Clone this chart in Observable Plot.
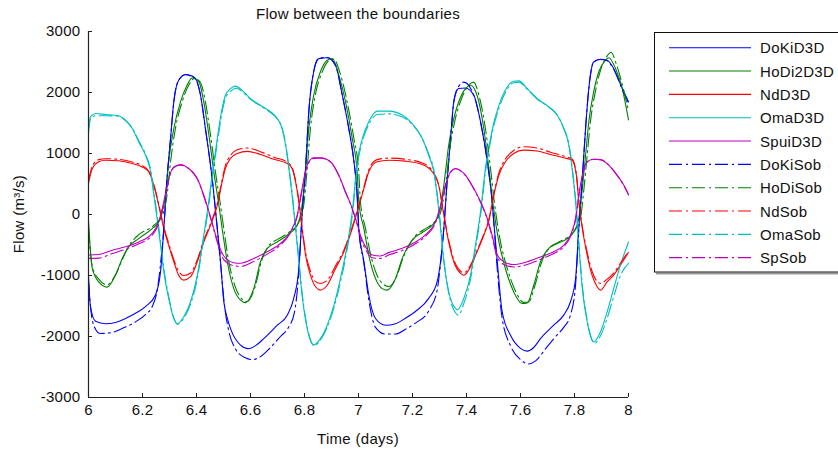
<!DOCTYPE html>
<html><head><meta charset="utf-8">
<script src="https://cdn.jsdelivr.net/npm/d3@7"></script>
<script src="https://cdn.jsdelivr.net/npm/@observablehq/plot@0.6"></script>
<style>
body{margin:0;background:#fff}
svg{font-family:"Liberation Sans",Arial,sans-serif;letter-spacing:0.3px}
</style>
</head><body><div id="chart"></div>
<script>
const DoKiD3D = [[6.000,-1000],[6.007,-1500],[6.026,-1750],[6.063,-1790],[6.100,-1770],[6.137,-1705],[6.174,-1620],[6.211,-1510],[6.248,-1320],[6.267,-930],[6.279,-230],[6.291,590],[6.304,1250],[6.316,1850],[6.334,2200],[6.359,2295],[6.378,2280],[6.396,2230],[6.415,1955],[6.433,1410],[6.458,590],[6.477,-230],[6.489,-770],[6.501,-1425],[6.514,-1700],[6.526,-1870],[6.563,-2140],[6.593,-2200],[6.619,-2150],[6.649,-2035],[6.699,-1815],[6.736,-1650],[6.760,-1375],[6.779,-885],[6.791,-10],[6.804,755],[6.816,1690],[6.834,2340],[6.853,2555],[6.884,2570],[6.915,2450],[6.940,1955],[6.964,1410],[6.983,870],[6.995,320],[7.001,-230],[7.020,-770],[7.038,-1320],[7.063,-1705],[7.100,-1815],[7.137,-1790],[7.174,-1700],[7.211,-1590],[7.260,-1375],[7.291,-1105],[7.304,-770],[7.316,-230],[7.329,590],[7.341,1245],[7.353,1850],[7.371,2065],[7.396,2075],[7.427,1955],[7.452,1520],[7.477,870],[7.495,210],[7.501,-120],[7.514,-770],[7.532,-1590],[7.563,-1980],[7.600,-2195],[7.625,-2240],[7.649,-2180],[7.674,-2035],[7.723,-1815],[7.760,-1650],[7.785,-1430],[7.804,-1050],[7.816,-230],[7.829,590],[7.841,1410],[7.853,2065],[7.871,2500],[7.896,2545],[7.921,2530],[7.945,2395],[7.977,2065],[8.000,1850]];
const HoDi2D3D = [[6.000,-100],[6.014,-885],[6.038,-1105],[6.069,-1190],[6.100,-995],[6.125,-720],[6.149,-530],[6.186,-395],[6.236,-230],[6.260,-120],[6.274,50],[6.285,320],[6.297,865],[6.316,1410],[6.341,1850],[6.365,2120],[6.384,2240],[6.409,2175],[6.427,1845],[6.446,1300],[6.464,700],[6.483,150],[6.495,-230],[6.514,-775],[6.538,-1215],[6.563,-1405],[6.581,-1445],[6.612,-1215],[6.637,-775],[6.662,-555],[6.699,-450],[6.736,-340],[6.773,-175],[6.791,150],[6.804,755],[6.816,1410],[6.834,1955],[6.859,2340],[6.884,2530],[6.903,2555],[6.927,2285],[6.952,1845],[6.977,1245],[6.995,700],[7.001,210],[7.020,-230],[7.038,-665],[7.063,-1050],[7.088,-1215],[7.106,-1240],[7.137,-1050],[7.162,-720],[7.186,-505],[7.211,-365],[7.236,-295],[7.273,-175],[7.297,-10],[7.316,480],[7.334,1135],[7.353,1575],[7.371,1845],[7.396,2065],[7.415,2120],[7.439,1955],[7.464,1410],[7.483,755],[7.497,210],[7.520,-450],[7.544,-885],[7.575,-1270],[7.606,-1460],[7.625,-1450],[7.649,-1160],[7.674,-775],[7.699,-585],[7.736,-475],[7.773,-395],[7.797,-285],[7.816,-65],[7.829,425],[7.841,970],[7.853,1520],[7.871,2010],[7.890,2340],[7.915,2530],[7.927,2570],[7.952,2395],[7.977,2065],[8.000,1550]];
const NdD3D = [[6.000,510],[6.014,755],[6.038,865],[6.063,890],[6.112,880],[6.162,835],[6.199,780],[6.223,700],[6.242,480],[6.260,150],[6.279,-230],[6.297,-505],[6.316,-775],[6.334,-995],[6.353,-1075],[6.378,-1020],[6.403,-775],[6.427,-450],[6.452,-175],[6.477,150],[6.495,535],[6.507,755],[6.526,920],[6.551,1000],[6.588,1035],[6.637,985],[6.686,905],[6.736,835],[6.754,755],[6.767,535],[6.779,210],[6.791,-230],[6.804,-665],[6.822,-995],[6.841,-1185],[6.859,-1240],[6.884,-1160],[6.915,-885],[6.946,-610],[6.977,-230],[6.995,45],[7.020,425],[7.038,700],[7.069,865],[7.112,890],[7.174,875],[7.236,820],[7.273,700],[7.297,480],[7.316,-10],[7.334,-450],[7.353,-775],[7.378,-965],[7.390,-995],[7.415,-860],[7.439,-610],[7.464,-340],[7.483,-95],[7.501,315],[7.520,645],[7.544,865],[7.575,1000],[7.612,1055],[7.662,1040],[7.711,985],[7.760,930],[7.791,890],[7.807,645],[7.816,210],[7.829,-230],[7.847,-665],[7.865,-995],[7.884,-1185],[7.896,-1240],[7.921,-1105],[7.945,-995],[7.970,-830],[8.000,-620]];
const OmaD3D = [[6.000,1400],[6.007,1600],[6.026,1655],[6.063,1640],[6.112,1620],[6.137,1545],[6.162,1410],[6.186,1190],[6.211,970],[6.230,700],[6.242,315],[6.254,-65],[6.267,-505],[6.279,-940],[6.297,-1375],[6.316,-1705],[6.327,-1790],[6.353,-1675],[6.378,-1430],[6.403,-995],[6.421,-505],[6.440,45],[6.458,645],[6.477,1245],[6.495,1740],[6.507,1955],[6.526,2065],[6.544,2105],[6.575,2010],[6.600,1900],[6.637,1790],[6.674,1685],[6.699,1575],[6.717,1410],[6.730,1135],[6.742,755],[6.754,315],[6.767,-230],[6.779,-775],[6.791,-1320],[6.810,-1870],[6.834,-2140],[6.859,-2035],[6.884,-1815],[6.909,-1485],[6.933,-1050],[6.958,-505],[6.977,45],[6.995,850],[7.014,1245],[7.038,1520],[7.069,1695],[7.112,1695],[7.162,1630],[7.199,1490],[7.236,1245],[7.260,970],[7.279,700],[7.291,315],[7.304,-230],[7.316,-775],[7.334,-1270],[7.359,-1540],[7.367,-1560],[7.390,-1375],[7.415,-995],[7.433,-505],[7.452,45],[7.470,755],[7.489,1250],[7.501,1500],[7.520,1790],[7.544,2040],[7.575,2185],[7.594,2190],[7.625,2065],[7.662,1900],[7.705,1765],[7.736,1630],[7.760,1410],[7.779,1135],[7.791,755],[7.804,210],[7.816,-505],[7.829,-1215],[7.847,-1760],[7.871,-2090],[7.896,-1925],[7.921,-1595],[7.945,-1215],[7.970,-830],[8.000,-450]];
const SpuiD3D = [[6.000,-665],[6.038,-655],[6.088,-585],[6.137,-530],[6.186,-450],[6.236,-310],[6.260,-120],[6.279,210],[6.297,590],[6.316,780],[6.341,820],[6.371,755],[6.403,590],[6.427,315],[6.446,45],[6.464,-230],[6.483,-505],[6.501,-680],[6.538,-790],[6.563,-800],[6.612,-720],[6.662,-610],[6.711,-475],[6.748,-285],[6.773,-10],[6.791,425],[6.810,810],[6.834,930],[6.859,930],[6.896,865],[6.927,645],[6.952,370],[6.977,100],[6.995,-150],[7.007,-340],[7.026,-530],[7.051,-665],[7.081,-680],[7.112,-625],[7.162,-555],[7.211,-450],[7.254,-310],[7.285,-120],[7.304,150],[7.322,480],[7.341,700],[7.359,755],[7.396,645],[7.427,425],[7.452,210],[7.477,-65],[7.495,-340],[7.514,-665],[7.538,-775],[7.575,-820],[7.625,-775],[7.674,-695],[7.723,-610],[7.760,-505],[7.785,-340],[7.804,-65],[7.816,315],[7.829,645],[7.847,865],[7.871,905],[7.896,900],[7.927,810],[7.958,645],[7.983,480],[8.000,330]];
const DoKiSob = [[6.000,-1100],[6.011,-1650],[6.026,-1880],[6.044,-1950],[6.081,-1940],[6.119,-1880],[6.174,-1760],[6.211,-1640],[6.237,-1500],[6.256,-1200],[6.267,-800],[6.279,-230],[6.291,590],[6.304,1250],[6.316,1850],[6.334,2200],[6.359,2290],[6.378,2270],[6.396,2220],[6.415,1955],[6.433,1410],[6.458,590],[6.477,-230],[6.489,-800],[6.504,-1500],[6.519,-1900],[6.544,-2200],[6.581,-2350],[6.607,-2380],[6.637,-2330],[6.674,-2180],[6.711,-2000],[6.741,-1850],[6.763,-1600],[6.778,-1000],[6.791,-10],[6.804,755],[6.816,1690],[6.834,2340],[6.853,2560],[6.884,2575],[6.915,2440],[6.940,1955],[6.964,1410],[6.983,870],[6.995,320],[7.001,-230],[7.020,-800],[7.038,-1400],[7.063,-1850],[7.100,-1960],[7.137,-1960],[7.174,-1880],[7.211,-1780],[7.260,-1580],[7.291,-1250],[7.304,-800],[7.316,-230],[7.329,590],[7.341,1245],[7.353,1850],[7.371,2100],[7.390,2170],[7.427,1955],[7.452,1520],[7.477,870],[7.495,210],[7.501,-120],[7.514,-900],[7.532,-1700],[7.563,-2150],[7.600,-2380],[7.630,-2450],[7.656,-2400],[7.693,-2200],[7.730,-2000],[7.760,-1850],[7.785,-1650],[7.804,-1150],[7.816,-230],[7.829,590],[7.841,1410],[7.853,2065],[7.871,2500],[7.896,2540],[7.921,2520],[7.945,2380],[7.977,2050],[8.000,1830]];
const HoDiSob = [[6.000,-250],[6.014,-850],[6.038,-1060],[6.069,-1150],[6.100,-990],[6.125,-740],[6.149,-520],[6.186,-330],[6.236,-200],[6.260,-100],[6.279,50],[6.291,320],[6.304,865],[6.322,1410],[6.347,1850],[6.371,2120],[6.393,2230],[6.415,2160],[6.433,1845],[6.452,1300],[6.470,700],[6.489,150],[6.501,-230],[6.519,-760],[6.544,-1190],[6.569,-1390],[6.587,-1430],[6.616,-1200],[6.641,-760],[6.666,-520],[6.703,-400],[6.740,-300],[6.776,-150],[6.797,150],[6.810,755],[6.822,1410],[6.840,1955],[6.865,2330],[6.890,2520],[6.909,2545],[6.933,2300],[6.958,1845],[6.983,1245],[7.001,700],[7.007,210],[7.026,-230],[7.044,-640],[7.069,-1000],[7.094,-1150],[7.112,-1180],[7.141,-1020],[7.166,-700],[7.190,-480],[7.215,-330],[7.240,-255],[7.277,-140],[7.303,20],[7.322,480],[7.340,1135],[7.359,1575],[7.377,1845],[7.402,2080],[7.426,2170],[7.446,1955],[7.470,1410],[7.489,755],[7.503,210],[7.526,-450],[7.550,-870],[7.581,-1250],[7.612,-1440],[7.631,-1430],[7.655,-1140],[7.680,-760],[7.705,-560],[7.742,-450],[7.779,-360],[7.803,-250],[7.822,-65],[7.835,425],[7.847,970],[7.859,1520],[7.877,2010],[7.896,2360],[7.921,2600],[7.935,2660],[7.956,2450],[7.981,2060],[8.000,1700]];
const NdSob = [[6.000,560],[6.014,790],[6.038,900],[6.063,915],[6.112,905],[6.162,860],[6.199,800],[6.223,710],[6.242,490],[6.260,170],[6.279,-200],[6.297,-470],[6.316,-740],[6.334,-930],[6.353,-1000],[6.378,-960],[6.403,-740],[6.427,-420],[6.452,-150],[6.477,180],[6.495,570],[6.507,800],[6.526,970],[6.551,1060],[6.588,1090],[6.637,1030],[6.686,940],[6.736,860],[6.754,770],[6.767,550],[6.779,230],[6.791,-200],[6.804,-620],[6.822,-930],[6.841,-1100],[6.859,-1130],[6.884,-1080],[6.915,-840],[6.946,-580],[6.977,-200],[6.995,60],[7.020,450],[7.038,730],[7.069,900],[7.112,925],[7.174,905],[7.236,845],[7.273,720],[7.297,490],[7.316,10],[7.334,-420],[7.353,-740],[7.378,-930],[7.390,-955],[7.415,-830],[7.439,-590],[7.464,-320],[7.483,-80],[7.501,330],[7.520,680],[7.544,910],[7.575,1050],[7.612,1110],[7.662,1090],[7.711,1020],[7.760,960],[7.791,910],[7.807,660],[7.816,230],[7.829,-200],[7.847,-620],[7.865,-930],[7.884,-1100],[7.896,-1130],[7.921,-1060],[7.945,-960],[7.970,-800],[8.000,-600]];
const OmaSob = [[6.000,1350],[6.007,1560],[6.026,1620],[6.063,1620],[6.112,1610],[6.137,1540],[6.162,1420],[6.186,1210],[6.211,990],[6.230,740],[6.242,380],[6.254,0],[6.267,-440],[6.279,-880],[6.297,-1340],[6.316,-1690],[6.330,-1800],[6.353,-1700],[6.378,-1470],[6.403,-1050],[6.421,-560],[6.440,-20],[6.458,580],[6.477,1170],[6.495,1680],[6.507,1900],[6.526,2020],[6.548,2070],[6.575,1990],[6.600,1890],[6.637,1780],[6.674,1670],[6.699,1565],[6.717,1420],[6.730,1160],[6.742,790],[6.754,360],[6.767,-180],[6.779,-730],[6.791,-1280],[6.810,-1840],[6.837,-2150],[6.859,-2060],[6.884,-1850],[6.909,-1530],[6.933,-1110],[6.958,-570],[6.977,-20],[6.995,780],[7.014,1190],[7.038,1470],[7.069,1640],[7.112,1650],[7.162,1600],[7.199,1480],[7.236,1250],[7.260,990],[7.279,730],[7.291,360],[7.304,-180],[7.316,-730],[7.334,-1280],[7.359,-1610],[7.370,-1650],[7.390,-1460],[7.415,-1060],[7.433,-570],[7.452,-20],[7.470,690],[7.489,1200],[7.501,1450],[7.520,1740],[7.544,2000],[7.575,2160],[7.594,2170],[7.625,2050],[7.662,1890],[7.705,1760],[7.736,1630],[7.760,1420],[7.779,1160],[7.791,790],[7.804,260],[7.816,-450],[7.829,-1160],[7.847,-1730],[7.875,-2110],[7.896,-1990],[7.921,-1700],[7.945,-1350],[7.970,-1000],[8.000,-800]];
const SpSob = [[6.000,-720],[6.038,-715],[6.088,-640],[6.137,-570],[6.186,-480],[6.236,-340],[6.260,-150],[6.279,180],[6.297,570],[6.316,770],[6.341,810],[6.371,750],[6.403,580],[6.427,300],[6.446,30],[6.464,-250],[6.483,-540],[6.501,-740],[6.538,-840],[6.563,-850],[6.612,-770],[6.662,-650],[6.711,-500],[6.748,-300],[6.773,-30],[6.791,400],[6.810,790],[6.834,920],[6.859,925],[6.896,860],[6.927,640],[6.952,360],[6.977,90],[6.995,-170],[7.007,-370],[7.026,-570],[7.051,-710],[7.081,-720],[7.112,-665],[7.162,-590],[7.211,-480],[7.254,-330],[7.285,-140],[7.304,130],[7.322,460],[7.341,690],[7.359,750],[7.396,640],[7.427,420],[7.452,200],[7.477,-80],[7.495,-370],[7.514,-700],[7.538,-820],[7.575,-860],[7.625,-820],[7.674,-735],[7.723,-640],[7.760,-530],[7.785,-360],[7.804,-80],[7.816,300],[7.829,630],[7.847,860],[7.871,905],[7.896,900],[7.927,810],[7.958,640],[7.983,470],[8.000,320]];

const seriesNames = ["DoKiD3D","HoDi2D3D","NdD3D","OmaD3D","SpuiD3D","DoKiSob","HoDiSob","NdSob","OmaSob","SpSob"];
const seriesData = [DoKiD3D,HoDi2D3D,NdD3D,OmaD3D,SpuiD3D,DoKiSob,HoDiSob,NdSob,OmaSob,SpSob];
const seriesColors = ["#0000ff","#008000","#ff0000","#00bfbf","#bf00bf","#0000ff","#008000","#ff0000","#00bfbf","#bf00bf"];
const seriesDashed = [false,false,false,false,false,true,true,true,true,true];
const xTicks = [6,6.2,6.4,6.6,6.8,7,7.2,7.4,7.6,7.8,8];
const yTicks = [-3000,-2000,-1000,0,1000,2000,3000];
const titleText = "Flow between the boundaries";
const xLabel = "Time (days)";
const yLabel = "Flow (m³/s)";

const W = 838, H = 453, mL = 88, mR = 210, mT = 31, mB = 56;
const fw = W - mL - mR, fh = H - mT - mB;
const DASH = "13,4,2,4";

const lineMarks = seriesData.map((arr, i) => Plot.line(arr, {
  x: d => d[0], y: d => d[1], stroke: seriesColors[i], strokeWidth: 1.1,
  strokeDasharray: seriesDashed[i] ? DASH : null, curve: "monotone-x"
}));

const svg = Plot.plot({
  width: W, height: H, marginLeft: mL, marginRight: mR, marginTop: mT, marginBottom: mB,
  style: {fontSize: "15px", fontFamily: "'Liberation Sans', Arial, sans-serif", color: "#000", background: "#fff"},
  x: {domain: [6, 8]},
  y: {domain: [-3000, 3000]},
  marks: [
    ...lineMarks,
    Plot.ruleX([6], {stroke: "#222", strokeWidth: 1.2}),
    Plot.ruleY([-3000], {stroke: "#222", strokeWidth: 1.2}),
    Plot.tickY(yTicks, {y: d => d, insetRight: fw - 4, stroke: "#222"}),
    Plot.tickX(xTicks, {x: d => d, insetTop: fh - 4, stroke: "#222"}),
    Plot.axisY(yTicks, {tickSize: 0, tickPadding: 8, label: null, tickFormat: d => String(d), fill: "#111"}),
    Plot.axisX(xTicks, {tickSize: 0, tickPadding: 7, label: null, tickFormat: d => String(d), fill: "#111"})
  ]
});

const s = d3.select(svg);
s.append("text").attr("x", mL + fw / 2).attr("y", 19).attr("text-anchor", "middle")
  .attr("font-size", 15).attr("fill", "#111").text(titleText);
s.append("text").attr("x", mL + fw / 2).attr("y", 444).attr("text-anchor", "middle")
  .attr("font-size", 15).attr("fill", "#111").text(xLabel);
s.append("text").attr("transform", `translate(24,${mT + fh / 2}) rotate(-90)`).attr("text-anchor", "middle")
  .attr("font-size", 15).attr("fill", "#111").text(yLabel);

// legend
const lg = s.append("g");
lg.append("line").attr("x1", 656).attr("x2", 838).attr("y1", 273.5).attr("y2", 273.5).attr("stroke", "#999").attr("stroke-width", 2);
lg.append("rect").attr("x", 654.5).attr("y", 32.5).attr("width", 200).attr("height", 239.5)
  .attr("fill", "#fff").attr("stroke", "#111").attr("stroke-width", 1);
seriesNames.forEach((name, i) => {
  const y = 47.7 + i * 23.33;
  lg.append("line").attr("x1", 669).attr("x2", 751).attr("y1", y).attr("y2", y)
    .attr("stroke", seriesColors[i]).attr("stroke-width", 1.1)
    .attr("stroke-dasharray", seriesDashed[i] ? DASH : null);
  lg.append("text").attr("x", 760).attr("y", y + 5.5).attr("text-anchor", "start")
    .attr("font-size", 15).attr("fill", "#111").text(name);
});

document.getElementById("chart").appendChild(svg);
</script>
</body></html>
